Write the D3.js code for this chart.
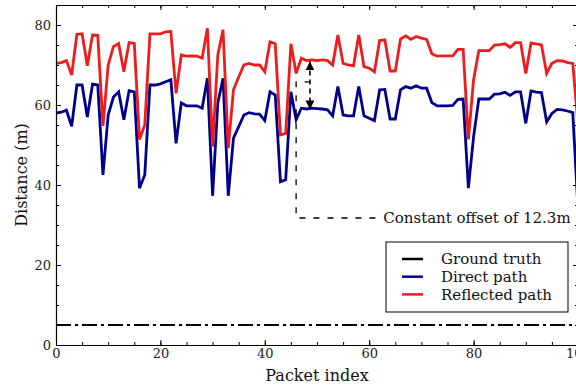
<!DOCTYPE html>
<html>
  <head>
    <script src="https://d3js.org/d3.v7.min.js"></script>
    <style>
      body,
      html {
        margin: 0;
        padding: 0;
        background: #fff;
        overflow: hidden;
        font-family: "DejaVu Serif", serif;
      }
    </style>
  </head>
  <body>
    <svg id="chart" width="576" height="385"></svg>
    <script>
      // packet index 0..100
      var packets = d3.range(0, 101);
      var direct = [
        58.0, 58.2, 58.7, 54.7, 65.0, 65.0, 57.0, 65.2, 65.0, 42.5,
        57.5, 62.0, 63.3, 56.3, 63.6, 63.3, 39.2, 42.5, 65.0, 65.0,
        65.3, 65.8, 66.3, 50.4, 60.5, 59.8, 59.8, 59.8, 59.2, 66.7,
        37.3, 60.5, 66.7, 37.3, 51.7, 54.6, 57.5, 58.1, 57.8, 57.7,
        56.1, 63.3, 62.5, 40.8, 41.3, 63.3, 56.3, 59.2, 59.0, 59.2,
        59.1, 59.0, 58.8, 57.3, 64.6, 57.5, 57.3, 57.3, 64.6, 57.3,
        56.7, 56.1, 63.8, 63.9, 56.5, 56.5, 63.8, 64.6, 64.2, 64.8,
        64.2, 64.2, 60.6, 59.8, 59.8, 59.8, 59.9, 61.4, 61.5, 39.2,
        52.1, 61.5, 61.5, 61.5, 62.7, 62.8, 63.2, 62.4, 63.3, 63.3,
        55.4, 63.5, 63.2, 63.1, 55.8, 57.9, 58.9, 58.8, 58.5, 58.1,
        34.0
      ];
      var reflected = [
        70.4, 70.6, 71.1, 67.5, 77.7, 77.8, 69.8, 77.5, 77.4, 54.8,
        70.0, 74.6, 75.4, 68.3, 75.6, 75.4, 51.4, 55.0, 77.8, 77.8,
        77.8, 78.3, 78.4, 62.9, 72.5, 72.2, 72.3, 72.2, 71.7, 79.2,
        49.6, 72.5, 78.8, 49.2, 63.8, 67.0, 70.0, 70.4, 70.0, 70.0,
        68.3, 75.8, 75.3, 52.5, 52.9, 75.3, 67.9, 71.7, 71.1, 71.3,
        71.1, 71.3, 71.1, 70.0, 77.5, 70.4, 70.0, 69.8, 77.5, 69.6,
        69.2, 68.3, 76.1, 76.3, 68.5, 68.5, 76.5, 77.3, 76.4, 77.1,
        76.7, 76.4, 72.8, 72.2, 72.3, 72.3, 72.3, 73.9, 73.9, 51.4,
        66.3, 73.6, 73.6, 73.6, 75.0, 75.1, 75.3, 74.4, 75.6, 75.6,
        67.9, 75.5, 75.3, 75.0, 67.9, 70.4, 71.1, 71.0, 70.6, 70.4,
        55.0
      ];
      var groundTruth = 5;
      var majorX = [0, 20, 40, 60, 80, 100];
      var majorY = [0, 20, 40, 60, 80];
      var minorX = d3.range(0, 101, 5);
      var minorY = d3.range(0, 86, 5);
      var seriesNames = ["Ground truth", "Direct path", "Reflected path"];
      var seriesColors = ["#000000", "#00008b", "#ee1c1c"];

      var svg = d3.select("#chart");
      var padL = 56, padR = 578, padT = 5, padB = 345;

      var x = d3.scaleLinear().domain([0, 100]).range([padL, padR]);
      var y = d3.scaleLinear().domain([0, 85]).range([padB, padT]);

      // ground truth dash-dot
      svg
        .append("line")
        .attr("x1", x(0))
        .attr("x2", x(100))
        .attr("y1", y(groundTruth))
        .attr("y2", y(groundTruth))
        .attr("stroke", seriesColors[0])
        .attr("stroke-width", 2.2)
        .attr("stroke-dasharray", "15,4,3,4");

      var line = d3
        .line()
        .x(function (d, i) {
          return x(packets[i]);
        })
        .y(function (d) {
          return y(d);
        });

      svg
        .append("path")
        .datum(direct)
        .attr("d", line)
        .attr("fill", "none")
        .attr("stroke", seriesColors[1])
        .attr("stroke-width", 2.8);

      svg
        .append("path")
        .datum(reflected)
        .attr("d", line)
        .attr("fill", "none")
        .attr("stroke", seriesColors[2])
        .attr("stroke-width", 2.8);

      // annotation
      svg
        .append("path")
        .attr(
          "d",
          "M" + x(61.2) + "," + y(31.75) +
          "L" + x(46) + "," + y(31.75) +
          "L" + x(46) + "," + y(65.8) +
          "L" + x(48.65) + "," + y(65.8)
        )
        .attr("fill", "none")
        .attr("stroke", "#000")
        .attr("stroke-width", 1.3)
        .attr("stroke-dasharray", "6,8");

      var defs = svg.append("defs");
      defs
        .append("marker")
        .attr("id", "head")
        .attr("viewBox", "0 0 10 10")
        .attr("refX", 10)
        .attr("refY", 5)
        .attr("markerWidth", 9)
        .attr("markerHeight", 9)
        .attr("markerUnits", "userSpaceOnUse")
        .attr("orient", "auto-start-reverse")
        .append("path")
        .attr("d", "M0,0L10,5L0,10Z")
        .attr("fill", "#000");

      svg
        .append("line")
        .attr("x1", x(48.65))
        .attr("x2", x(48.65))
        .attr("y1", y(70.9))
        .attr("y2", y(58.9))
        .attr("stroke", "#000")
        .attr("stroke-width", 1.6)
        .attr("stroke-dasharray", "5,4")
        .attr("marker-start", "url(#head)")
        .attr("marker-end", "url(#head)");

      svg
        .append("text")
        .attr("x", x(62.7))
        .attr("y", y(31.75))
        .attr("dy", "0.35em")
        .attr("font-size", 15)
        .attr("fill", "#111")
        .text("Constant offset of 12.3m");

      // axes, ticks inward on all sides
      function addAxis(axis, tx, ty, labels) {
        var g = svg
          .append("g")
          .attr("transform", "translate(" + tx + "," + ty + ")")
          .call(axis);
        g.select(".domain").attr("stroke", "#000").attr("stroke-width", 1.2);
        g.selectAll("text")
          .attr("font-family", "DejaVu Serif")
          .attr("font-size", 13)
          .attr("fill", "#222");
        if (!labels) g.selectAll("text").remove();
        return g;
      }

      function fmt(d) {
        return d;
      }

      addAxis(
        d3.axisBottom(x).tickValues(majorX).tickSizeInner(-5).tickSizeOuter(0).tickPadding(4).tickFormat(fmt),
        0, padB, true
      );
      addAxis(d3.axisBottom(x).tickValues(minorX).tickSizeInner(-3).tickSizeOuter(0), 0, padB, false).select(".domain").remove();
      addAxis(d3.axisTop(x).tickValues(majorX).tickSizeInner(-5).tickSizeOuter(0), 0, padT, false);
      addAxis(d3.axisTop(x).tickValues(minorX).tickSizeInner(-3).tickSizeOuter(0), 0, padT, false).select(".domain").remove();

      addAxis(
        d3.axisLeft(y).tickValues(majorY).tickSizeInner(-5).tickSizeOuter(0).tickPadding(5).tickFormat(fmt),
        padL, 0, true
      );
      addAxis(d3.axisLeft(y).tickValues(minorY).tickSizeInner(-3).tickSizeOuter(0), padL, 0, false).select(".domain").remove();
      addAxis(d3.axisRight(y).tickValues(majorY).tickSizeInner(-5).tickSizeOuter(0), padR, 0, false);
      addAxis(d3.axisRight(y).tickValues(minorY).tickSizeInner(-3).tickSizeOuter(0), padR, 0, false).select(".domain").remove();

      // axis labels
      svg
        .append("text")
        .attr("x", (padL + padR) / 2)
        .attr("y", 381)
        .attr("text-anchor", "middle")
        .attr("font-size", 16)
        .attr("fill", "#111")
        .text("Packet index");

      svg
        .append("text")
        .attr("transform", "translate(27," + (padT + padB) / 2 + ") rotate(-90)")
        .attr("text-anchor", "middle")
        .attr("font-size", 16)
        .attr("fill", "#111")
        .text("Distance (m)");

      // legend
      var legend = svg.append("g").attr("transform", "translate(386,242)");
      legend
        .append("rect")
        .attr("width", 182)
        .attr("height", 70)
        .attr("fill", "#fff")
        .attr("stroke", "#000")
        .attr("stroke-width", 1);
      seriesNames.forEach(function (name, i) {
        var ry = 17 + i * 17.7;
        legend
          .append("line")
          .attr("x1", 16)
          .attr("x2", 37)
          .attr("y1", ry)
          .attr("y2", ry)
          .attr("stroke", seriesColors[i])
          .attr("stroke-width", 2.5);
        legend
          .append("text")
          .attr("x", 55)
          .attr("y", ry)
          .attr("dy", "0.35em")
          .attr("font-size", 15)
          .attr("fill", "#111")
          .text(name);
      });
    </script>
  </body>
</html>
